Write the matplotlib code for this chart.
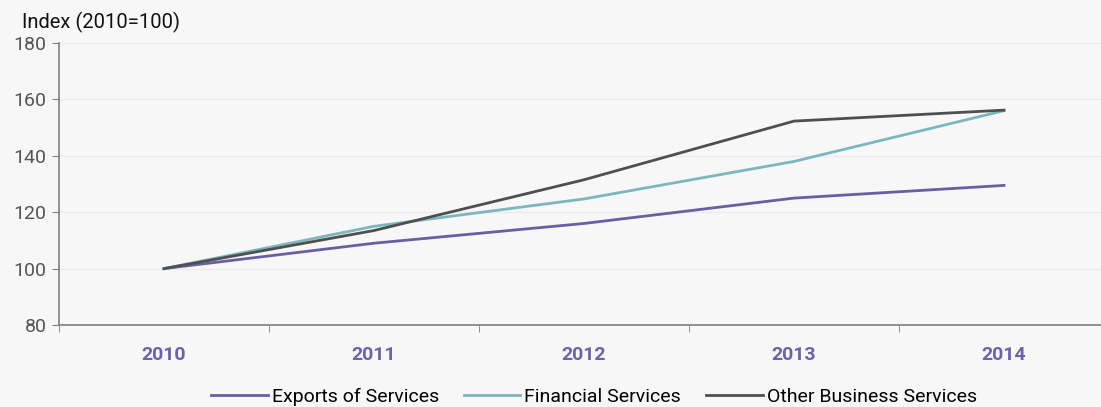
import matplotlib
matplotlib.use("Agg")
import matplotlib.pyplot as plt
import numpy as np

# ── Data ──────────────────────────────────────────────────────────────
years = ["2010", "2011", "2012", "2013", "2014"]
exports = [100, 109, 116, 125, 129.5]
financial = [100, 115, 124.7, 138, 156]
other_business = [100, 113.5, 131.5, 152.3, 156.2]

plt.rcParams["font.family"] = ["Roboto", "DejaVu Sans"]

fig = plt.figure(figsize=(11.01, 4.07), dpi=100)
fig.patch.set_facecolor("#f7f7f7")
ax = fig.add_axes([59 / 1101, 1 - 325 / 407, 1050 / 1101, 282 / 407])
ax.set_facecolor("none")

x = np.arange(len(years))
ax.plot(x, exports, color="#6a5fa3", lw=2, label="Exports of Services")
ax.plot(x, financial, color="#7cb7bd", lw=2, label="Financial Services")
ax.plot(x, other_business, color="#4f4f4f", lw=2, label="Other Business Services")

ax.set_xlim(-0.5, len(years) - 0.5)
ax.set_ylim(80, 180)
ax.set_yticks(range(80, 181, 20))
ax.grid(axis="y", color="#ebebeb", lw=1)
ax.set_axisbelow(True)

ax.set_xticks(x)
ax.set_xticklabels(years, color="#6c63a6", fontweight="bold", fontsize=14)
ax.set_xticks(np.arange(-0.5, len(years), 1), minor=True)
ax.tick_params(axis="x", which="major", length=0, pad=15)
ax.tick_params(axis="x", which="minor", length=5, color="#808080")
ax.tick_params(axis="y", length=5, color="#808080", labelcolor="#555555",
               labelsize=14, pad=4)

for s in ["top", "right"]:
    ax.spines[s].set_visible(False)
for s in ["left", "bottom"]:
    ax.spines[s].set_color("#808080")
    ax.spines[s].set_linewidth(1.2)

fig.text(22 / 1101, 1 - 22 / 407, "Index (2010=100)", fontsize=14.5,
         color="#111111", va="center")

fig.legend(loc="center", bbox_to_anchor=(594 / 1101, 1 - 397 / 407),
           ncol=3, frameon=False, fontsize=14, handlelength=2.9,
           handletextpad=0.2, columnspacing=1.3)

fig.savefig("out.png", dpi=100, facecolor=fig.get_facecolor())
